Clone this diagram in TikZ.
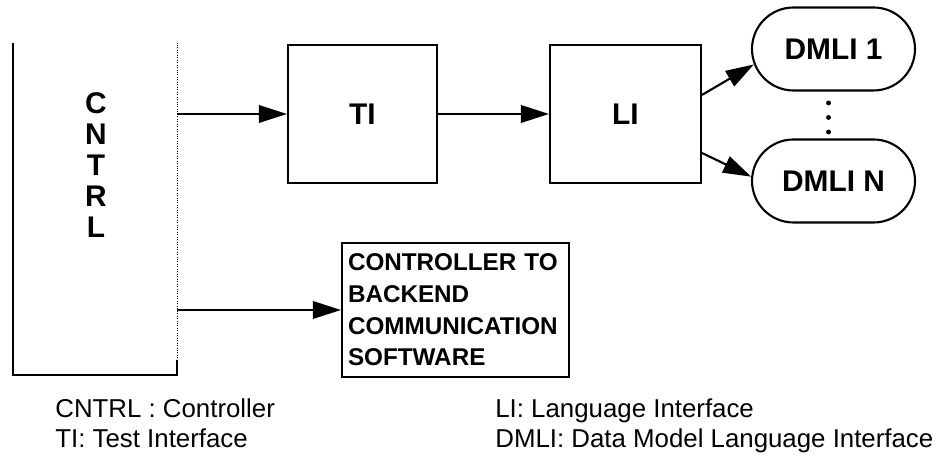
\documentclass[tikz,border=0pt]{standalone}
\usepackage{fontspec}
\setmainfont{Liberation Sans}
\usetikzlibrary{arrows.meta,shapes.misc}

\begin{document}
\begin{tikzpicture}

\tikzset{line/.style={draw,line width=1.2pt}}
\tikzset{arrow/.style={line,-{Triangle[length=16pt,width=10pt]}}}
\tikzset{block/.style={line,rectangle,inner sep=0pt,font=\fontsize{17}{17.4}\selectfont\bfseries}}
\tikzset{pill/.style={line,rounded rectangle,inner sep=0pt,minimum width=3.26cm,minimum height=1.66cm,font=\fontsize{17}{17.4}\selectfont\bfseries}}
\tikzset{legend/.style={anchor=base west,inner sep=0pt,font=\fontsize{14.7}{17}\selectfont}}

\useasboundingbox (0,0) rectangle (18.86,9.28);

% controller column, open at the top
\node[inner sep=0pt,minimum width=3.28cm,minimum height=6.64cm] (cntrl) at (1.9,5.1) {};
\node[align=center,font=\fontsize{17}{17.6}\selectfont\bfseries] (cntrllabel) at (1.92,5.98) {C\\N\\T\\R\\L};
\path[line] (cntrl.north west) -- (cntrl.south west) -- (cntrl.south east) -- ++(0,0.3);
\draw[densely dotted,thin] (cntrl.south east) -- (cntrl.north east);

\node[block,minimum width=2.98cm,minimum height=2.76cm] (ti) at (7.25,7.0) {TI};
\node[block,minimum width=3.02cm,minimum height=2.76cm] (li) at (12.51,7.0) {LI};

\node[pill] (dmlione) at (16.67,8.3) {DMLI 1};
\node[pill] (dmlin) at (16.67,5.66) {DMLI N};

\node[line,align=left,text width=4.3cm,inner sep=0.12cm,minimum height=2.68cm,
  font=\fontsize{13.8}{18}\selectfont\bfseries] (cbcs) at (9.11,3.08)
  {CONTROLLER TO\\BACKEND\\COMMUNICATION\\SOFTWARE};

\path[arrow] (cntrl.east |- ti.west) to (ti.west);
\path[arrow] (ti) to (li);
\path[arrow] (li.14) to (dmlione.191);
\path[arrow] (li.-27) to (dmlin.177);
\path[arrow] (cntrl.east |- cbcs.west) to (cbcs.west);

% dots between the first and last DMLI
\fill (16.57,7.22) circle (1.4pt);
\fill (16.57,6.93) circle (1.4pt);
\fill (16.57,6.64) circle (1.4pt);

\node[legend] (keycntrl) at (1.1,0.92) {CNTRL : Controller};
\node[legend] (keyti) at (1.1,0.32) {TI: Test Interface};
\node[legend] (keyli) at (9.9,0.92) {LI: Language Interface};
\node[legend] (keydmli) at (9.9,0.32) {DMLI: Data Model Language Interface};

\end{tikzpicture}
\end{document}
